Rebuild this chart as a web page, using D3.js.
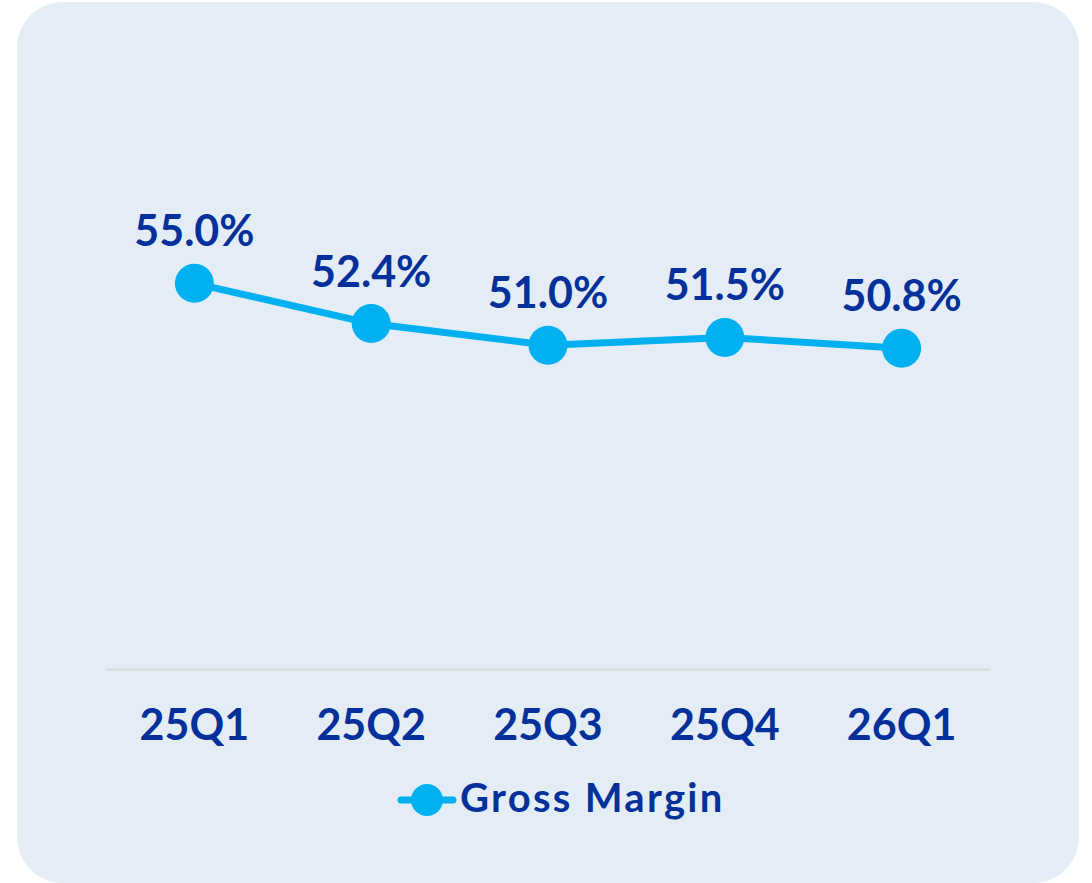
<!DOCTYPE html>
<html>
<head>
<meta charset="utf-8">
<script src="https://cdn.jsdelivr.net/npm/d3@7"></script>
<style>
  html, body { margin: 0; padding: 0; background: #ffffff; }
  svg { display: block; }
  text { font-family: Lato, "Open Sans", sans-serif; font-weight: 700; fill: #03309A; }
</style>
</head>
<body>
<svg id="chart" width="1092" height="883"></svg>
<script>
// quarters and gross margin (%)
var quarters = ["25Q1", "25Q2", "25Q3", "25Q4", "26Q1"];
var grossMargin = [55.0, 52.4, 51.0, 51.5, 50.8];
var seriesName = "Gross Margin";

var svg = d3.select("#chart"),
    width = +svg.attr("width"),
    height = +svg.attr("height");

var lineColor = "#00B0F0";

// card background
svg.append("rect")
    .attr("x", 17).attr("y", 2)
    .attr("width", 1062).attr("height", 881)
    .attr("rx", 46).attr("ry", 46)
    .attr("fill", "#E4EDF5");

var x = d3.scaleBand()
    .domain(quarters)
    .range([106, 990]);

var y = d3.scaleLinear()
    .domain([30, 60])
    .range([670, 206]);

// category axis
var xAxis = svg.append("g")
    .attr("transform", "translate(0," + 669 + ")")
    .call(d3.axisBottom(x).tickSize(0).tickPadding(0));

xAxis.attr("font-family", null).attr("font-size", null);

xAxis.select(".domain")
    .attr("stroke", "#D9D9D9")
    .attr("stroke-width", 2);

xAxis.selectAll(".tick text")
    .attr("dy", null)
    .attr("y", 71)
    .attr("font-size", 43)
    .attr("fill", "#03309A");

var data = quarters.map(function(q, i) { return {q: q, v: grossMargin[i]}; });

var line = d3.line()
    .x(function(d) { return x(d.q) + x.bandwidth() / 2; })
    .y(function(d) { return y(d.v); });

svg.append("path")
    .datum(data)
    .attr("d", line)
    .attr("fill", "none")
    .attr("stroke", lineColor)
    .attr("stroke-width", 7)
    .attr("stroke-linejoin", "round");

svg.append("g")
    .selectAll("circle")
    .data(data)
    .enter().append("circle")
      .attr("cx", function(d) { return x(d.q) + x.bandwidth() / 2; })
      .attr("cy", function(d) { return y(d.v); })
      .attr("r", 19.5)
      .attr("fill", lineColor);

svg.append("g")
    .selectAll("text")
    .data(data)
    .enter().append("text")
      .attr("x", function(d) { return x(d.q) + x.bandwidth() / 2; })
      .attr("y", function(d) { return y(d.v) - 37; })
      .attr("text-anchor", "middle")
      .attr("font-size", 43)
      .text(function(d) { return d.v.toFixed(1) + "%"; });

// legend
var legend = svg.append("g").attr("transform", "translate(398,800)");

legend.append("line")
    .attr("x1", 3).attr("x2", 55)
    .attr("stroke", lineColor)
    .attr("stroke-width", 7)
    .attr("stroke-linecap", "round");

legend.append("circle")
    .attr("cx", 29)
    .attr("r", 16)
    .attr("fill", lineColor);

legend.append("text")
    .attr("x", 62)
    .attr("y", 12)
    .attr("font-size", 40)
    .attr("letter-spacing", 2.3)
    .text(seriesName);
</script>
</body>
</html>
